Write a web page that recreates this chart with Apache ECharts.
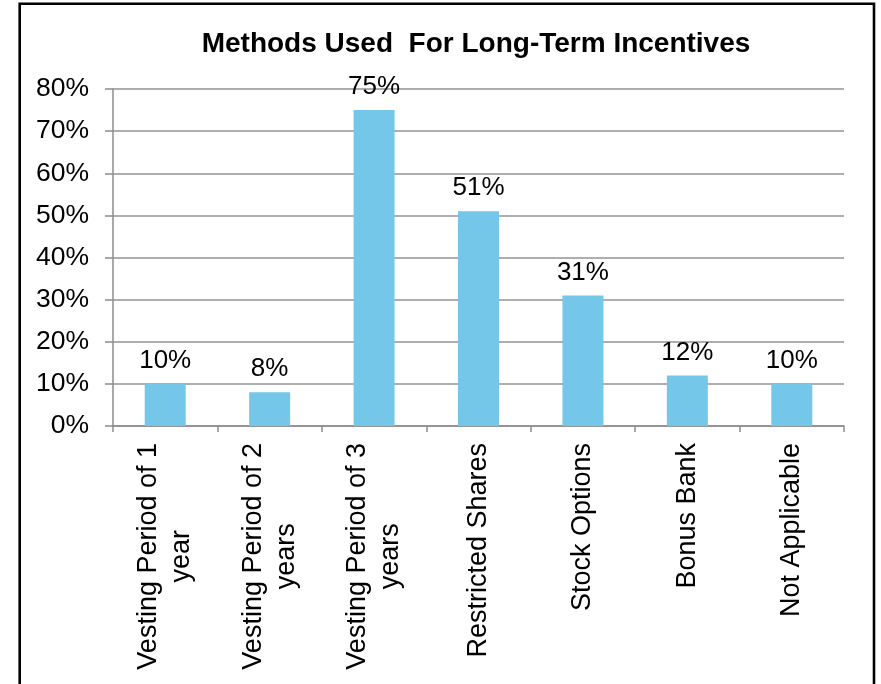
<!DOCTYPE html>
<html>
<head>
<meta charset="utf-8">
<title>Methods Used For Long-Term Incentives</title>
<script src="https://cdn.jsdelivr.net/npm/echarts@6/dist/echarts.min.js"></script>
<style>
  html, body { margin: 0; padding: 0; background: #ffffff; }
  #chart { width: 881px; height: 684px; }
</style>
</head>
<body>
<div id="chart"></div>
<script>
// Chart data
var chartTitle = 'Methods Used  For Long-Term Incentives';
var categories = [
  'Vesting Period of 1\nyear',
  'Vesting Period of 2\nyears',
  'Vesting Period of 3\nyears',
  'Restricted Shares',
  'Stock Options',
  'Bonus Bank',
  'Not Applicable'
];
var shares = [10, 8, 75, 51, 31, 12, 10];   // percent of respondents
var yTicks = { min: 0, max: 80, interval: 10 };

var FONT = '"Liberation Sans", Arial, Helvetica, sans-serif';
var chart = echarts.init(document.getElementById('chart'), null, { renderer: 'canvas' });

chart.setOption({
  animation: false,
  backgroundColor: '#ffffff',
  title: {
    text: chartTitle,
    left: 471,
    top: 25,
    textAlign: 'center',
    textStyle: { fontFamily: FONT, fontSize: 28, fontWeight: 'bold', color: '#000000' }
  },
  graphic: [{
    type: 'rect',
    shape: { x: 19.7, y: 3.8, width: 854.3, height: 720 },
    style: { fill: 'none', stroke: '#000000', lineWidth: 2.6 },
    silent: true,
    z: 100
  }],
  grid: { left: 113, right: 37, top: 89, bottom: 258, containLabel: false },
  xAxis: {
    type: 'category',
    data: categories,
    boundaryGap: true,
    axisLine: { show: true, lineStyle: { color: '#8c8c8c', width: 1.5 } },
    axisTick: { show: true, length: 6, alignWithLabel: false, lineStyle: { color: '#8c8c8c', width: 1.5 } },
    axisLabel: {
      interval: 0,
      rotate: 90,
      margin: 17,
      color: '#000000',
      fontFamily: FONT,
      fontSize: 27,
      formatter: function (v) {
        return v.split('\n').map(function (s) { return '{c|' + s + '}'; }).join('\n');
      },
      rich: {
        c: { align: 'center', fontFamily: FONT, fontSize: 27, lineHeight: 33, color: '#000000' }
      }
    }
  },
  yAxis: {
    type: 'value',
    min: yTicks.min,
    max: yTicks.max,
    interval: yTicks.interval,
    axisLine: { show: true, lineStyle: { color: '#8c8c8c', width: 1.5 } },
    axisTick: { show: true, length: 8, lineStyle: { color: '#8c8c8c', width: 1.5 } },
    splitLine: { show: true, lineStyle: { color: '#939393', width: 1.5 } },
    axisLabel: {
      margin: 24,
      color: '#000000',
      fontFamily: FONT,
      fontSize: 26.5,
      formatter: '{value}%'
    }
  },
  series: [{
    type: 'bar',
    data: shares,
    barWidth: 41,
    itemStyle: { color: '#75C7EA' },
    label: {
      show: true,
      position: 'top',
      distance: 10,
      color: '#000000',
      fontFamily: FONT,
      fontSize: 26,
      formatter: '{c}%'
    }
  }]
});
</script>
</body>
</html>
